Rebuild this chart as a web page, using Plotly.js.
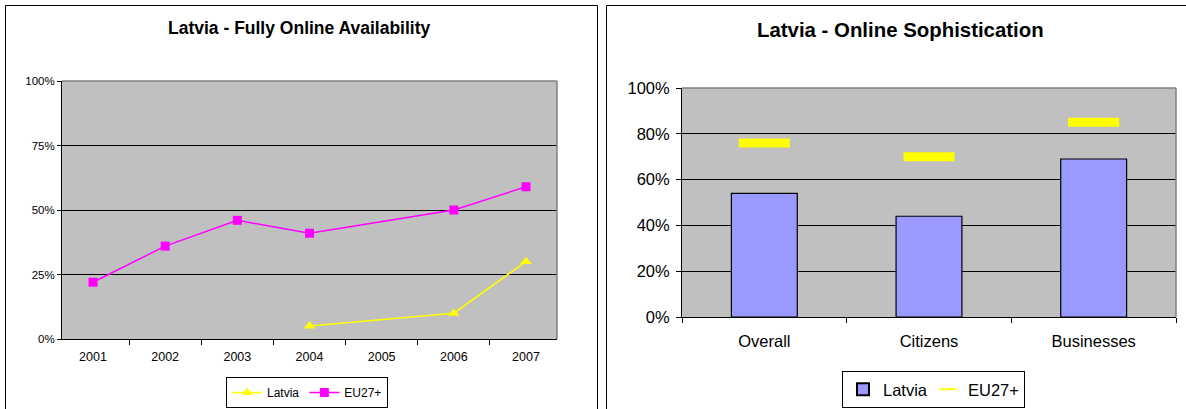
<!DOCTYPE html>
<html>
<head>
<meta charset="utf-8">
<script src="https://cdn.plot.ly/plotly-3.0.1.min.js"></script>
<style>html,body{margin:0;padding:0;background:#fff;}#chart{width:1186px;height:409px;}</style>
</head>
<body>
<div id="chart"></div>
<script>
// Left chart: Fully Online Availability
const years = ["2001", "2002", "2003", "2004", "2005", "2006", "2007"];
const latviaAvail = [null, null, null, 0.05, null, 0.10, 0.30];
const eu27Avail = [0.22, 0.36, 0.46, 0.41, null, 0.50, 0.59];

// Right chart: Online Sophistication
const sophCategories = ["Overall", "Citizens", "Businesses"];
const latviaSoph = [0.54, 0.44, 0.69];
const eu27Soph = [0.76, 0.70, 0.85];

const W = 1186, H = 409;
const px = v => v / W;
const py = v => (H - v) / H;
const FONT = "Liberation Sans, Arial, sans-serif";

const traces = [
  {
    x: years, y: latviaAvail, name: "Latvia", type: "scatter", mode: "lines+markers",
    connectgaps: true, xaxis: "x", yaxis: "y", legend: "legend",
    line: {color: "#ffff00", width: 1.5},
    marker: {symbol: "triangle-up", size: 10, color: "#ffff00"}
  },
  {
    x: years, y: eu27Avail, name: "EU27+", type: "scatter", mode: "lines+markers",
    connectgaps: true, xaxis: "x", yaxis: "y", legend: "legend",
    line: {color: "#ff00ff", width: 1.5},
    marker: {symbol: "square", size: 9, color: "#ff00ff"}
  },
  {
    x: sophCategories, y: latviaSoph, name: "Latvia", type: "bar",
    xaxis: "x2", yaxis: "y2", legend: "legend2", width: 0.4, legendwidth: 40,
    marker: {color: "#9999ff", line: {color: "#000000", width: 1.2}}
  },
  {
    x: sophCategories, y: eu27Soph, name: "EU27+", type: "scatter", mode: "markers",
    xaxis: "x2", yaxis: "y2", legend: "legend2",
    marker: {symbol: "line-ew", size: 36.5, color: "#ffff00", line: {color: "#ffff00", width: 9}}
  }
];

const layout = {
  width: W, height: H,
  margin: {l: 0, r: 0, t: 0, b: 0, autoexpand: false},
  paper_bgcolor: "#ffffff",
  plot_bgcolor: "#c0c0c0",
  font: {family: FONT, color: "#000000"},
  showlegend: true,
  xaxis: {
    domain: [px(62), px(557)], anchor: "y", type: "category",
    tickson: "boundaries", ticks: "outside", ticklen: 5, tickcolor: "#000",
    showline: true, linecolor: "#000", linewidth: 1, showgrid: false,
    ticklabelstandoff: 6,
    tickfont: {size: 12.5, family: FONT}, fixedrange: true
  },
  yaxis: {
    domain: [py(339), py(81)], anchor: "x", range: [0, 1], dtick: 0.25, tickformat: ".0%",
    ticks: "outside", ticklen: 4, tickcolor: "#000",
    showline: true, linecolor: "#000", linewidth: 1,
    showgrid: true, gridcolor: "#000", gridwidth: 1, zeroline: false,
    tickfont: {size: 11.5, family: FONT}, fixedrange: true
  },
  xaxis2: {
    domain: [px(682), px(1176)], anchor: "y2", type: "category",
    tickson: "boundaries", ticks: "outside", ticklen: 5, tickcolor: "#000",
    showline: true, linecolor: "#000", linewidth: 1, showgrid: false,
    ticklabelstandoff: 9,
    tickfont: {size: 16.5, family: FONT}, fixedrange: true
  },
  yaxis2: {
    domain: [py(317), py(88)], anchor: "x2", range: [0, 1], dtick: 0.2, tickformat: ".0%",
    ticks: "outside", ticklen: 5, tickcolor: "#000",
    showline: true, linecolor: "#000", linewidth: 1,
    showgrid: true, gridcolor: "#000", gridwidth: 1, zeroline: false,
    ticklabelstandoff: 3,
    tickfont: {size: 16.5, family: FONT}, fixedrange: true
  },
  legend: {
    orientation: "h", x: px(226), xanchor: "left", y: py(408), yanchor: "bottom",
    bgcolor: "#fff", bordercolor: "#000", borderwidth: 1,
    font: {size: 12, family: FONT}, itemwidth: 30
  },
  legend2: {
    orientation: "h", x: px(842), xanchor: "left", y: py(408), yanchor: "bottom",
    bgcolor: "#fff", bordercolor: "#000", borderwidth: 1, itemsizing: "constant",
    font: {size: 16.5, family: FONT}, itemwidth: 30
  },
  annotations: [
    {text: "<b>Latvia - Fully Online Availability</b>", xref: "paper", yref: "paper",
     x: px(299), y: py(28), xanchor: "center", yanchor: "middle", showarrow: false,
     font: {size: 17.5, family: FONT}},
    {text: "<b>Latvia - Online Sophistication</b>", xref: "paper", yref: "paper",
     x: px(900), y: py(30), xanchor: "center", yanchor: "middle", showarrow: false,
     font: {size: 20.4, family: FONT}}
  ],
  shapes: [
    // panel borders
    {type: "rect", xref: "paper", yref: "paper", x0: px(5.5), x1: px(597.5), y0: -0.1, y1: py(5.5),
     line: {color: "#000", width: 1}, fillcolor: "rgba(0,0,0,0)", layer: "below"},
    {type: "rect", xref: "paper", yref: "paper", x0: px(606.5), x1: 1.1, y0: -0.1, y1: py(5.5),
     line: {color: "#000", width: 1}, fillcolor: "rgba(0,0,0,0)", layer: "below"},
    // gray plot-area borders (top, right)
    {type: "line", xref: "x domain", yref: "y domain", x0: 0, x1: 1, y0: 1, y1: 1, line: {color: "#808080", width: 1.5}},
    {type: "line", xref: "x domain", yref: "y domain", x0: 1, x1: 1, y0: 0, y1: 1, line: {color: "#808080", width: 1.5}},
    {type: "line", xref: "x2 domain", yref: "y2 domain", x0: 0, x1: 1, y0: 1, y1: 1, line: {color: "#808080", width: 1.5}},
    {type: "line", xref: "x2 domain", yref: "y2 domain", x0: 1, x1: 1, y0: 0, y1: 1, line: {color: "#808080", width: 1.5}}
  ]
};

Plotly.newPlot("chart", traces, layout, {displayModeBar: false, staticPlot: true});
</script>
</body>
</html>
